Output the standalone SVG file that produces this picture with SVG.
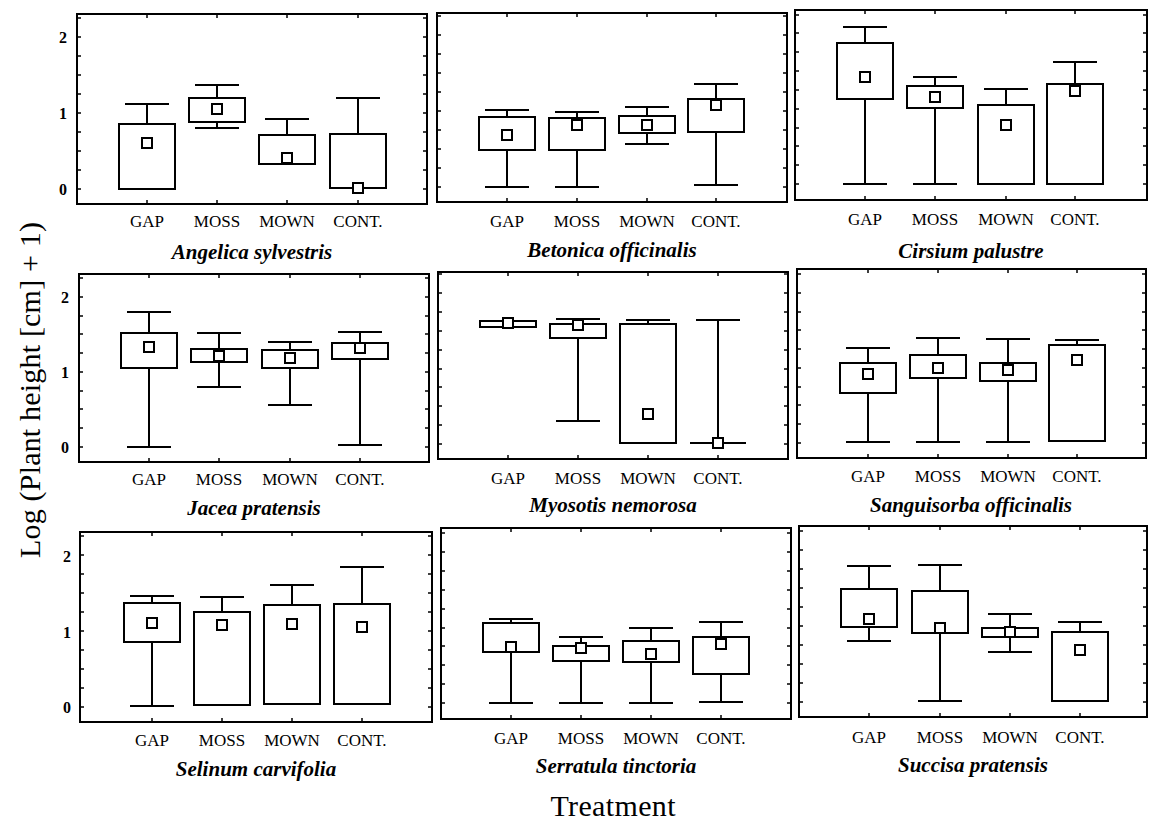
<svg xmlns="http://www.w3.org/2000/svg" width="1149" height="828" viewBox="0 0 1149 828">
<style>
.frame{fill:none;stroke:#000;stroke-width:2}
.tick{fill:none;stroke:#000;stroke-width:1.5}
.wh{fill:none;stroke:#000;stroke-width:2}
.box{fill:#fff;stroke:#000;stroke-width:2}
.mean{fill:#fff;stroke:#000;stroke-width:2}
.cat{font-family:"Liberation Serif","Times New Roman",serif;font-size:17px;text-anchor:middle;fill:#000}
.sp{font-family:"Liberation Serif","Times New Roman",serif;font-size:21px;font-weight:bold;font-style:italic;text-anchor:middle;fill:#000}
.yl{font-family:"Liberation Serif","Times New Roman",serif;font-size:16px;font-weight:bold;text-anchor:end;fill:#000}
.ttl{font-family:"Liberation Serif","Times New Roman",serif;font-size:30px;text-anchor:middle;fill:#000}
</style>
<rect width="1149" height="828" fill="#fff"/>

<g id="panel-angelica">
<rect class="frame" x="77" y="14" width="350" height="190"/>
<path class="tick" d="M77 189h4M77 170h4M77 151h4M77 132h4M77 113h4M77 94h4M77 75h4M77 56h4M77 37h4M77 18h4M427 189h-4M427 170h-4M427 151h-4M427 132h-4M427 113h-4M427 94h-4M427 75h-4M427 56h-4M427 37h-4M427 18h-4M147 14v4M217 14v4M287 14v4M358 14v4M147 204v-4M217 204v-4M287 204v-4M358 204v-4"/>
<text class="yl" x="67" y="42.5">2</text><text class="yl" x="67" y="118.5">1</text><text class="yl" x="67" y="194.5">0</text>
<path class="wh" d="M147 104V124M125 104h44M217 85V128M195 85h44M195 128h44M287 119V135M265 119h44M358 98V134M336 98h44"/>
<rect class="box" x="119" y="124" width="56" height="65"/>
<rect class="box" x="189" y="98" width="56" height="24"/>
<rect class="box" x="259" y="135" width="56" height="29"/>
<rect class="box" x="330" y="134" width="56" height="54"/>
<rect class="mean" x="142" y="138" width="10" height="10"/>
<rect class="mean" x="212" y="104" width="10" height="10"/>
<rect class="mean" x="282" y="153" width="10" height="10"/>
<rect class="mean" x="353" y="183" width="10" height="10"/>
<text class="cat" x="147" y="227">GAP</text><text class="cat" x="217" y="227">MOSS</text><text class="cat" x="287" y="227">MOWN</text><text class="cat" x="358" y="227">CONT.</text>
<text class="sp" x="252" y="259">Angelica sylvestris</text>
</g>

<g id="panel-betonica">
<rect class="frame" x="437" y="13" width="350" height="189"/>
<path class="tick" d="M437 187h4M437 168h4M437 149h4M437 130h4M437 111h4M437 92h4M437 73h4M437 54h4M437 35h4M437 16h4M787 187h-4M787 168h-4M787 149h-4M787 130h-4M787 111h-4M787 92h-4M787 73h-4M787 54h-4M787 35h-4M787 16h-4M507 13v4M577 13v4M647 13v4M716 13v4M507 202v-4M577 202v-4M647 202v-4M716 202v-4"/>
<path class="wh" d="M507 110V187M485 110h44M485 187h44M577 112V187M555 112h44M555 187h44M647 107V144M625 107h44M625 144h44M716 84V185M694 84h44M694 185h44"/>
<rect class="box" x="479" y="117" width="56" height="33"/>
<rect class="box" x="549" y="118" width="56" height="32"/>
<rect class="box" x="619" y="116" width="56" height="17"/>
<rect class="box" x="688" y="99" width="56" height="33"/>
<rect class="mean" x="502" y="130" width="10" height="10"/>
<rect class="mean" x="572" y="120" width="10" height="10"/>
<rect class="mean" x="642" y="120" width="10" height="10"/>
<rect class="mean" x="711" y="100" width="10" height="10"/>
<text class="cat" x="507" y="227">GAP</text><text class="cat" x="577" y="227">MOSS</text><text class="cat" x="647" y="227">MOWN</text><text class="cat" x="716" y="227">CONT.</text>
<text class="sp" x="612" y="257">Betonica officinalis</text>
</g>

<g id="panel-cirsium">
<rect class="frame" x="795" y="10" width="352" height="190"/>
<path class="tick" d="M795 184h4M795 165h4M795 146h4M795 128h4M795 109h4M795 90h4M795 71h4M795 52h4M795 33h4M795 15h4M1147 184h-4M1147 165h-4M1147 146h-4M1147 128h-4M1147 109h-4M1147 90h-4M1147 71h-4M1147 52h-4M1147 33h-4M1147 15h-4M865 10v4M935 10v4M1006 10v4M1075 10v4M865 200v-4M935 200v-4M1006 200v-4M1075 200v-4"/>
<path class="wh" d="M865 27V184M843 27h44M843 184h44M935 77V184M913 77h44M913 184h44M1006 89V105M984 89h44M1075 62V84M1053 62h44"/>
<rect class="box" x="837" y="43" width="56" height="56"/>
<rect class="box" x="907" y="86" width="56" height="22"/>
<rect class="box" x="978" y="105" width="56" height="79"/>
<rect class="box" x="1047" y="84" width="56" height="100"/>
<rect class="mean" x="860" y="72" width="10" height="10"/>
<rect class="mean" x="930" y="92" width="10" height="10"/>
<rect class="mean" x="1001" y="120" width="10" height="10"/>
<rect class="mean" x="1070" y="86" width="10" height="10"/>
<text class="cat" x="865" y="225">GAP</text><text class="cat" x="935" y="225">MOSS</text><text class="cat" x="1006" y="225">MOWN</text><text class="cat" x="1075" y="225">CONT.</text>
<text class="sp" x="971" y="258">Cirsium palustre</text>
</g>

<g id="panel-jacea">
<rect class="frame" x="79" y="274" width="350" height="188"/>
<path class="tick" d="M79 447h4M79 428h4M79 409h4M79 391h4M79 372h4M79 353h4M79 334h4M79 316h4M79 297h4M79 278h4M429 447h-4M429 428h-4M429 409h-4M429 391h-4M429 372h-4M429 353h-4M429 334h-4M429 316h-4M429 297h-4M429 278h-4M149 274v4M219 274v4M290 274v4M360 274v4M149 462v-4M219 462v-4M290 462v-4M360 462v-4"/>
<text class="yl" x="69" y="302.5">2</text><text class="yl" x="69" y="377.5">1</text><text class="yl" x="69" y="452.5">0</text>
<path class="wh" d="M149 312V447M127 312h44M127 447h44M219 333V387M197 333h44M197 387h44M290 342V405M268 342h44M268 405h44M360 332V445M338 332h44M338 445h44"/>
<rect class="box" x="121" y="333" width="56" height="35"/>
<rect class="box" x="191" y="349" width="56" height="13"/>
<rect class="box" x="262" y="350" width="56" height="18"/>
<rect class="box" x="332" y="343" width="56" height="16"/>
<rect class="mean" x="144" y="342" width="10" height="10"/>
<rect class="mean" x="214" y="351" width="10" height="10"/>
<rect class="mean" x="285" y="353" width="10" height="10"/>
<rect class="mean" x="355" y="343" width="10" height="10"/>
<text class="cat" x="149" y="485">GAP</text><text class="cat" x="219" y="485">MOSS</text><text class="cat" x="290" y="485">MOWN</text><text class="cat" x="360" y="485">CONT.</text>
<text class="sp" x="254" y="515">Jacea pratensis</text>
</g>

<g id="panel-myosotis">
<rect class="frame" x="438" y="272" width="350" height="187"/>
<path class="tick" d="M438 444h4M438 425h4M438 406h4M438 387h4M438 369h4M438 350h4M438 331h4M438 312h4M438 293h4M438 274h4M788 444h-4M788 425h-4M788 406h-4M788 387h-4M788 369h-4M788 350h-4M788 331h-4M788 312h-4M788 293h-4M788 274h-4M508 272v4M578 272v4M648 272v4M718 272v4M508 459v-4M578 459v-4M648 459v-4M718 459v-4"/>
<path class="wh" d="M578 319V421M556 319h44M556 421h44M648 320V324M626 320h44M718 320V443M696 320h44M690 443h56"/>
<rect class="box" x="480" y="321" width="56" height="6"/>
<rect class="box" x="550" y="324" width="56" height="14"/>
<rect class="box" x="620" y="324" width="56" height="119"/>
<rect class="mean" x="503" y="318" width="10" height="10"/>
<rect class="mean" x="573" y="320" width="10" height="10"/>
<rect class="mean" x="643" y="409" width="10" height="10"/>
<rect class="mean" x="713" y="438" width="10" height="10"/>
<text class="cat" x="508" y="484">GAP</text><text class="cat" x="578" y="484">MOSS</text><text class="cat" x="648" y="484">MOWN</text><text class="cat" x="718" y="484">CONT.</text>
<text class="sp" x="613" y="512">Myosotis nemorosa</text>
</g>

<g id="panel-sanguisorba">
<rect class="frame" x="797" y="269" width="349" height="189"/>
<path class="tick" d="M797 443h4M797 424h4M797 405h4M797 387h4M797 368h4M797 349h4M797 330h4M797 312h4M797 293h4M797 274h4M1146 443h-4M1146 424h-4M1146 405h-4M1146 387h-4M1146 368h-4M1146 349h-4M1146 330h-4M1146 312h-4M1146 293h-4M1146 274h-4M868 269v4M938 269v4M1008 269v4M1077 269v4M868 458v-4M938 458v-4M1008 458v-4M1077 458v-4"/>
<path class="wh" d="M868 348V442M846 348h44M846 442h44M938 338V442M916 338h44M916 442h44M1008 339V442M986 339h44M986 442h44M1077 340V345M1055 340h44"/>
<rect class="box" x="840" y="363" width="56" height="30"/>
<rect class="box" x="910" y="355" width="56" height="23"/>
<rect class="box" x="980" y="363" width="56" height="18"/>
<rect class="box" x="1049" y="345" width="56" height="96"/>
<rect class="mean" x="863" y="369" width="10" height="10"/>
<rect class="mean" x="933" y="363" width="10" height="10"/>
<rect class="mean" x="1003" y="365" width="10" height="10"/>
<rect class="mean" x="1072" y="355" width="10" height="10"/>
<text class="cat" x="868" y="482">GAP</text><text class="cat" x="938" y="482">MOSS</text><text class="cat" x="1008" y="482">MOWN</text><text class="cat" x="1077" y="482">CONT.</text>
<text class="sp" x="971" y="512">Sanguisorba officinalis</text>
</g>

<g id="panel-selinum">
<rect class="frame" x="80" y="532" width="352" height="190"/>
<path class="tick" d="M80 707h4M80 688h4M80 669h4M80 650h4M80 631h4M80 612h4M80 593h4M80 574h4M80 555h4M80 536h4M432 707h-4M432 688h-4M432 669h-4M432 650h-4M432 631h-4M432 612h-4M432 593h-4M432 574h-4M432 555h-4M432 536h-4M152 532v4M222 532v4M292 532v4M362 532v4M152 722v-4M222 722v-4M292 722v-4M362 722v-4"/>
<text class="yl" x="71" y="561.5">2</text><text class="yl" x="71" y="637.5">1</text><text class="yl" x="71" y="712.5">0</text>
<path class="wh" d="M152 596V706M130 596h44M130 706h44M222 597V612M200 597h44M292 585V605M270 585h44M362 567V604M340 567h44"/>
<rect class="box" x="124" y="603" width="56" height="39"/>
<rect class="box" x="194" y="612" width="56" height="93"/>
<rect class="box" x="264" y="605" width="56" height="99"/>
<rect class="box" x="334" y="604" width="56" height="100"/>
<rect class="mean" x="147" y="618" width="10" height="10"/>
<rect class="mean" x="217" y="620" width="10" height="10"/>
<rect class="mean" x="287" y="619" width="10" height="10"/>
<rect class="mean" x="357" y="622" width="10" height="10"/>
<text class="cat" x="152" y="746">GAP</text><text class="cat" x="222" y="746">MOSS</text><text class="cat" x="292" y="746">MOWN</text><text class="cat" x="362" y="746">CONT.</text>
<text class="sp" x="256" y="776">Selinum carvifolia</text>
</g>

<g id="panel-serratula">
<rect class="frame" x="441" y="528" width="350" height="191"/>
<path class="tick" d="M441 703h4M441 684h4M441 665h4M441 646h4M441 628h4M441 609h4M441 590h4M441 571h4M441 552h4M441 533h4M791 703h-4M791 684h-4M791 665h-4M791 646h-4M791 628h-4M791 609h-4M791 590h-4M791 571h-4M791 552h-4M791 533h-4M511 528v4M581 528v4M651 528v4M721 528v4M511 719v-4M581 719v-4M651 719v-4M721 719v-4"/>
<path class="wh" d="M511 619V703M489 619h44M489 703h44M581 637V703M559 637h44M559 703h44M651 628V703M629 628h44M629 703h44M721 622V702M699 622h44M699 702h44"/>
<rect class="box" x="483" y="623" width="56" height="29"/>
<rect class="box" x="553" y="646" width="56" height="15"/>
<rect class="box" x="623" y="641" width="56" height="21"/>
<rect class="box" x="693" y="637" width="56" height="37"/>
<rect class="mean" x="506" y="642" width="10" height="10"/>
<rect class="mean" x="576" y="643" width="10" height="10"/>
<rect class="mean" x="646" y="649" width="10" height="10"/>
<rect class="mean" x="716" y="639" width="10" height="10"/>
<text class="cat" x="511" y="744">GAP</text><text class="cat" x="581" y="744">MOSS</text><text class="cat" x="651" y="744">MOWN</text><text class="cat" x="721" y="744">CONT.</text>
<text class="sp" x="616" y="773">Serratula tinctoria</text>
</g>

<g id="panel-succisa">
<rect class="frame" x="799" y="526" width="348" height="191"/>
<path class="tick" d="M799 702h4M799 683h4M799 664h4M799 645h4M799 626h4M799 607h4M799 588h4M799 569h4M799 550h4M799 531h4M1147 702h-4M1147 683h-4M1147 664h-4M1147 645h-4M1147 626h-4M1147 607h-4M1147 588h-4M1147 569h-4M1147 550h-4M1147 531h-4M869 526v4M940 526v4M1010 526v4M1080 526v4M869 717v-4M940 717v-4M1010 717v-4M1080 717v-4"/>
<path class="wh" d="M869 566V641M847 566h44M847 641h44M940 565V701M918 565h44M918 701h44M1010 614V652M988 614h44M988 652h44M1080 622V632M1058 622h44"/>
<rect class="box" x="841" y="589" width="56" height="38"/>
<rect class="box" x="912" y="591" width="56" height="42"/>
<rect class="box" x="982" y="628" width="56" height="9"/>
<rect class="box" x="1052" y="632" width="56" height="69"/>
<rect class="mean" x="864" y="614" width="10" height="10"/>
<rect class="mean" x="935" y="623" width="10" height="10"/>
<rect class="mean" x="1005" y="627" width="10" height="10"/>
<rect class="mean" x="1075" y="645" width="10" height="10"/>
<text class="cat" x="869" y="743">GAP</text><text class="cat" x="940" y="743">MOSS</text><text class="cat" x="1010" y="743">MOWN</text><text class="cat" x="1080" y="743">CONT.</text>
<text class="sp" x="973" y="772">Succisa pratensis</text>
</g>

<g id="axis-titles">
<text class="ttl" transform="translate(40,390) rotate(-90)" textLength="336" lengthAdjust="spacing">Log (Plant height [cm] + 1)</text>
<text class="ttl" x="613" y="816" textLength="125" lengthAdjust="spacing">Treatment</text>
</g>
<g id="connectors"/>
</svg>
